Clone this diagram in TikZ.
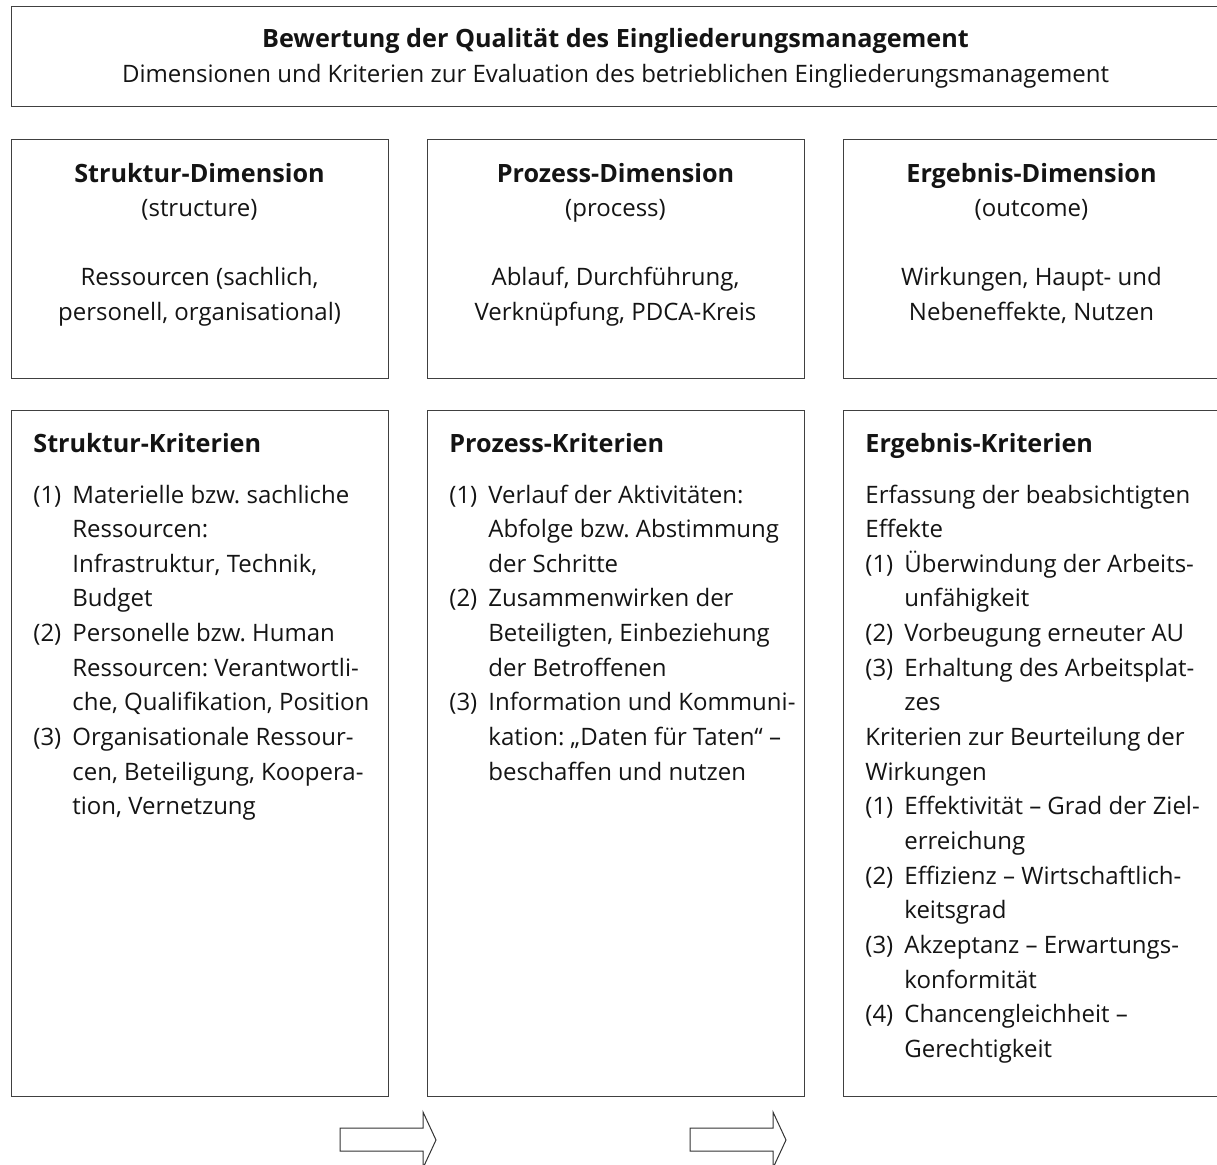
\documentclass[tikz,border=0pt]{standalone}
\usepackage{fontspec}
\setmainfont{Open Sans}
\usepackage{array}
\frenchspacing

\newcommand{\diafont}{\fontsize{12pt}{17.33pt}\selectfont}
\newcommand{\headfont}{\fontsize{12.6pt}{17.33pt}\selectfont\bfseries}

\begin{document}
\begin{tikzpicture}[x=0.5pt,y=-0.5pt,
    box/.style ={draw=black!75, line width=0.7pt, anchor=north west, inner sep=0pt},
    dimension/.style ={box, minimum width=188.5pt, minimum height=119.5pt},
    criteria/.style ={box, minimum width=188.5pt, minimum height=343pt},
    label/.style ={anchor=base, inner sep=0pt, font=\diafont, text=black!92},
    critlabel/.style ={label, anchor=base west},
    blockarrow/.style ={draw=black!80, line width=0.5pt, fill=white}]
   \useasboundingbox (0,0) rectangle (1217,1164);

   % boxes
   \node[box, minimum width=604.5pt, minimum height=50pt] (head) at (11,6) {};
   \node[dimension] (SD) at (11,139)  {};
   \node[dimension] (PD) at (427,139) {};
   \node[dimension] (ED) at (843,139) {};
   \node[criteria] (SK) at (11,410)  {};
   \node[criteria] (PK) at (427,410) {};
   \node[criteria] (EK) at (843,410) {};

   % heading
   \node[label, font=\headfont] (headtitle) at (615.5,47) {Bewertung der Qualität des Eingliederungsmanagement};
   \node[label] (headsub) at (615.5,82) {Dimensionen und Kriterien zur Evaluation des betrieblichen Eingliederungsmanagement};

   % dimensions
   \node[label] (SDtext) at (199.5,182) {\begin{tabular}[t]{@{}c@{}}{\headfont Struktur-Dimension}\\(structure)\\ \\Ressourcen (sachlich,\\personell, organisational)\end{tabular}};
   \node[label] (PDtext) at (615.5,182) {\begin{tabular}[t]{@{}c@{}}{\headfont Prozess-Dimension}\\(process)\\ \\Ablauf, Durchführung,\\Verknüpfung, PDCA-Kreis\end{tabular}};
   \node[label] (EDtext) at (1031.5,182) {\begin{tabular}[t]{@{}c@{}}{\headfont Ergebnis-Dimension}\\(outcome)\\ \\Wirkungen, Haupt- und\\Nebeneffekte, Nutzen\end{tabular}};

   % criteria
   \node[critlabel, font=\headfont] (SKtitle) at (33,452)  {Struktur-Kriterien};
   \node[critlabel, font=\headfont] (PKtitle) at (449,452) {Prozess-Kriterien};
   \node[critlabel, font=\headfont] (EKtitle) at (865,452) {Ergebnis-Kriterien};

   \node[critlabel] (SKtext) at (33,503) {\begin{tabular}[t]{@{}p{19.5pt}@{}l@{}}
      (1) & Materielle bzw. sachliche\\
          & Ressourcen:\\
          & Infrastruktur, Technik,\\
          & Budget\\
      (2) & Personelle bzw. Human\\
          & Ressourcen: Verantwortli-\\
          & che, Qualifikation, Position\\
      (3) & Organisationale Ressour-\\
          & cen, Beteiligung, Koopera-\\
          & tion, Vernetzung
   \end{tabular}};
   \node[critlabel] (PKtext) at (449,503) {\begin{tabular}[t]{@{}p{19.5pt}@{}l@{}}
      (1) & Verlauf der Aktivitäten:\\
          & Abfolge bzw. Abstimmung\\
          & der Schritte\\
      (2) & Zusammenwirken der\\
          & Beteiligten, Einbeziehung\\
          & der Betroffenen\\
      (3) & Information und Kommuni-\\
          & kation: „Daten für Taten“ –\\
          & beschaffen und nutzen
   \end{tabular}};
   \node[critlabel] (EKtext) at (865,503) {\begin{tabular}[t]{@{}p{19.5pt}@{}l@{}}
      \multicolumn{2}{@{}l@{}}{Erfassung der beabsichtigten}\\
      \multicolumn{2}{@{}l@{}}{Effekte}\\
      (1) & Überwindung der Arbeits-\\
          & unfähigkeit\\
      (2) & Vorbeugung erneuter AU\\
      (3) & Erhaltung des Arbeitsplat-\\
          & zes\\
      \multicolumn{2}{@{}l@{}}{Kriterien zur Beurteilung der}\\
      \multicolumn{2}{@{}l@{}}{Wirkungen}\\
      (1) & Effektivität – Grad der Ziel-\\
          & erreichung\\
      (2) & Effizienz – Wirtschaftlich-\\
          & keitsgrad\\
      (3) & Akzeptanz – Erwartungs-\\
          & konformität\\
      (4) & Chancengleichheit –\\
          & Gerechtigkeit
   \end{tabular}};

   % arrows
   \foreach \x in {0,350}
      \draw[blockarrow, shift={(\x,0)}] (340,1128) -- (423,1128) -- (423,1112) -- (436,1140)
         -- (423,1168) -- (423,1151) -- (340,1151) -- cycle;
 \end{tikzpicture}
\end{document}
